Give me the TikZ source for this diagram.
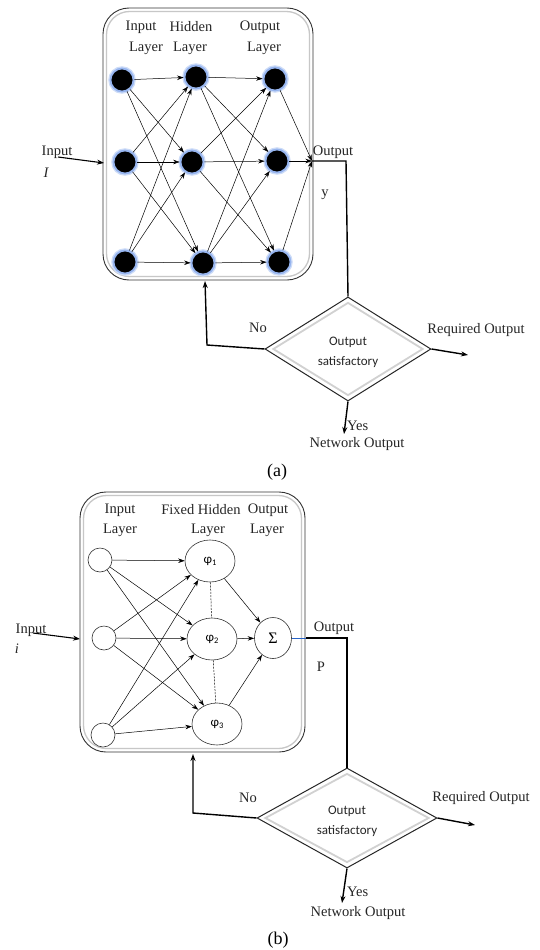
\documentclass[tikz,border=0pt]{standalone}
\usepackage{fontspec}
\setmainfont{Liberation Serif}
\newfontfamily\calib{Carlito}
\usetikzlibrary{shapes.geometric,arrows.meta}
\definecolor{glow}{RGB}{150,180,238}
\definecolor{glowsoft}{RGB}{205,220,248}
\definecolor{bluelink}{RGB}{40,100,200}
\begin{document}
\begin{tikzpicture}[x=1pt,y=-1pt,
  neuron/.style={circle, fill=black, draw=glow, line width=1.8pt, minimum size=23pt, inner sep=0,
    preaction={draw=glowsoft, line width=4.5pt}},
  oneuron/.style={circle, draw=black!80, line width=0.6pt, fill=white, minimum size=24pt, inner sep=0},
  phinode/.style={ellipse, draw=black!80, line width=0.6pt, fill=white, minimum width=50pt, minimum height=42pt, inner sep=0, font=\calib\fontsize{13}{13}\selectfont},
  sumnode/.style={ellipse, draw=black!80, line width=0.6pt, fill=white, minimum width=37pt, minimum height=41pt, inner sep=0, font=\fontsize{16}{16}\selectfont},
  link/.style={-{Stealth[length=6.5pt,width=4.5pt]}, line width=0.5pt},
  flow/.style={line width=1.4pt},
  flowarrow/.style={-{Stealth[length=7pt,width=5pt]}, line width=1.4pt},
  lab/.style={font=\fontsize{14.5}{16}\selectfont, inner sep=0, text=black!85},
  caption/.style={font=\fontsize{18}{20}\selectfont, inner sep=0},
  outerbox/.style={draw=black!80, line width=0.9pt, inner sep=0},
  innerbox/.style={draw=black!22, line width=1.3pt, inner sep=0},
  outerdia/.style={diamond, draw=black!85, line width=1pt, inner sep=0},
  innerdia/.style={diamond, draw=black!18, line width=1.8pt, inner sep=0},
  diatext/.style={font=\calib\fontsize{13}{20}\selectfont, align=center, inner sep=0, text=black!85},
  dashlink/.style={dashed, dash pattern=on 2pt off 1.2pt, line width=0.5pt}
]
\useasboundingbox (0,0) rectangle (539,950);
\fill[white] (0,0) rectangle (539,950);

% ================= Panel (a) =================
\node[outerbox, rounded corners=26pt, minimum width=210pt, minimum height=272pt] (a_box) at (208,144) {};
\node[innerbox, rounded corners=23pt, minimum width=203pt, minimum height=265pt] (a_boxin) at (208,144) {};

\node[lab] (a_t1) at (141,27) {Input};
\node[lab] (a_t2) at (146,48) {Layer};
\node[lab] (a_t3) at (191,27) {Hidden};
\node[lab] (a_t4) at (190,48) {Layer};
\node[lab] (a_t5) at (260,27) {Output};
\node[lab] (a_t6) at (264,48) {Layer};

\node[neuron] (a_i1) at (122,80) {};
\node[neuron] (a_i2) at (125,162) {};
\node[neuron] (a_i3) at (125,262) {};
\node[neuron] (a_h1) at (196,77) {};
\node[neuron] (a_h2) at (192,162) {};
\node[neuron] (a_h3) at (203,263) {};
\node[neuron] (a_o1) at (275,79) {};
\node[neuron] (a_o2) at (277,161) {};
\node[neuron] (a_o3) at (279,262) {};

\foreach \s in {1,2,3}{
  \foreach \t in {1,2,3}{
    \draw[link] (a_i\s) -- (a_h\t);
    \draw[link] (a_h\s) -- (a_o\t);
  }
}
\coordinate (a_j) at (312,161);
\coordinate (a_k) at (346,161);
\foreach \s in {1,2,3}{\draw[link] (a_o\s) -- (a_j);}

\node[lab] (a_inlab) at (57,152) {Input};
\node[lab, font=\fontsize{14.5}{16}\selectfont\itshape] (a_inI) at (46,173) {I};
\coordinate (a_in) at (58,157);
\coordinate (a_inend) at (104,163);
\draw[flowarrow, line width=1.1pt] (a_in) -- (a_inend);

\node[lab] (a_outlab) at (333,152) {Output};
\node[lab] (a_y) at (325,195) {y};

\node[outerdia, minimum width=166pt, minimum height=104pt] (a_d) at (348,349) {};
\node[innerdia, minimum width=150pt, minimum height=93pt] (a_din) at (348,349) {};
\node[diatext] (a_dt) at (348,352) {Output\\satisfactory};

\draw[flow] (a_j) -- (a_k) -- (a_d.north);

\coordinate (a_n) at (207,345);
\coordinate (a_nt) at (205,281);
\draw[flowarrow] (a_d.west) -- (a_n) -- (a_nt);
\node[lab] (a_no) at (258,328) {No};

\coordinate (a_r) at (468,355);
\draw[flowarrow] (a_d.east) -- (a_r);
\node[lab] (a_req) at (476,330) {Required Output};

\coordinate (a_ye) at (344,434);
\draw[flowarrow] (a_d.south) -- (a_ye);
\node[lab, anchor=west] (a_yes) at (347,426) {Yes};
\node[lab] (a_net) at (357,444) {Network Output};

\node[caption] (a_cap) at (277,472) {(a)};

% ================= Panel (b) =================
\node[outerbox, rounded corners=26pt, minimum width=225pt, minimum height=260pt] (b_box) at (192.5,622) {};
\node[innerbox, rounded corners=23pt, minimum width=218pt, minimum height=253pt] (b_boxin) at (192.5,622) {};

\node[lab] (b_t1) at (120,510) {Input};
\node[lab] (b_t2) at (120,530) {Layer};
\node[lab] (b_t3) at (201,510) {Fixed Hidden};
\node[lab] (b_t4) at (208,530) {Layer};
\node[lab] (b_t5) at (268,510) {Output};
\node[lab] (b_t6) at (267,530) {Layer};

\node[oneuron] (b_i1) at (100,560) {};
\node[oneuron] (b_i2) at (104,638) {};
\node[oneuron] (b_i3) at (103,735) {};
\node[phinode] (b_h1) at (210,561) {φ\raisebox{-2pt}{\fontsize{8.5}{8.5}\selectfont 1}};
\node[phinode] (b_h2) at (212,639) {φ\raisebox{-2pt}{\fontsize{8.5}{8.5}\selectfont 2}};
\node[phinode] (b_h3) at (217,724) {φ\raisebox{-2pt}{\fontsize{8.5}{8.5}\selectfont 3}};
\node[sumnode] (b_s) at (273,638) {Σ};

\foreach \s in {1,2,3}{
  \foreach \t in {1,2,3}{
    \draw[link] (b_i\s) -- (b_h\t);
  }
  \draw[link] (b_h\s) -- (b_s);
}
\draw[dashlink] (b_h1) -- (b_h2);
\draw[dashlink] (b_h2) -- (b_h3);

\node[lab] (b_inlab) at (31,630) {Input};
\node[lab, font=\fontsize{14.5}{16}\selectfont\itshape] (b_ini) at (17,649) {i};
\coordinate (b_in) at (33,633);
\coordinate (b_inend) at (80,639);
\draw[flowarrow, line width=1.1pt] (b_in) -- (b_inend);

\coordinate (b_e) at (306,638);
\coordinate (b_k) at (347,638);
\draw[bluelink, line width=0.7pt] (b_s) -- (b_e);

\node[lab] (b_outlab) at (334,628) {Output};
\node[lab] (b_p) at (321,667) {P};

\node[outerdia, minimum width=180pt, minimum height=100pt] (b_d) at (347,818) {};
\node[innerdia, minimum width=164pt, minimum height=89pt] (b_din) at (347,818) {};
\node[diatext] (b_dt) at (347,821) {Output\\satisfactory};

\draw[flow] (b_e) -- (b_k) -- (b_d.north);

\coordinate (b_n) at (193,813);
\coordinate (b_nt) at (193,754);
\draw[flowarrow] (b_d.west) -- (b_n) -- (b_nt);
\node[lab] (b_no) at (248,798) {No};

\coordinate (b_r) at (475,825);
\draw[flowarrow] (b_d.east) -- (b_r);
\node[lab] (b_req) at (481,798) {Required Output};

\coordinate (b_ye) at (342,903);
\draw[flowarrow] (b_d.south) -- (b_ye);
\node[lab, anchor=west] (b_yes) at (347,892) {Yes};
\node[lab] (b_net) at (358,913) {Network Output};

\node[caption] (b_cap) at (278,940) {(b)};
\end{tikzpicture}
\end{document}
